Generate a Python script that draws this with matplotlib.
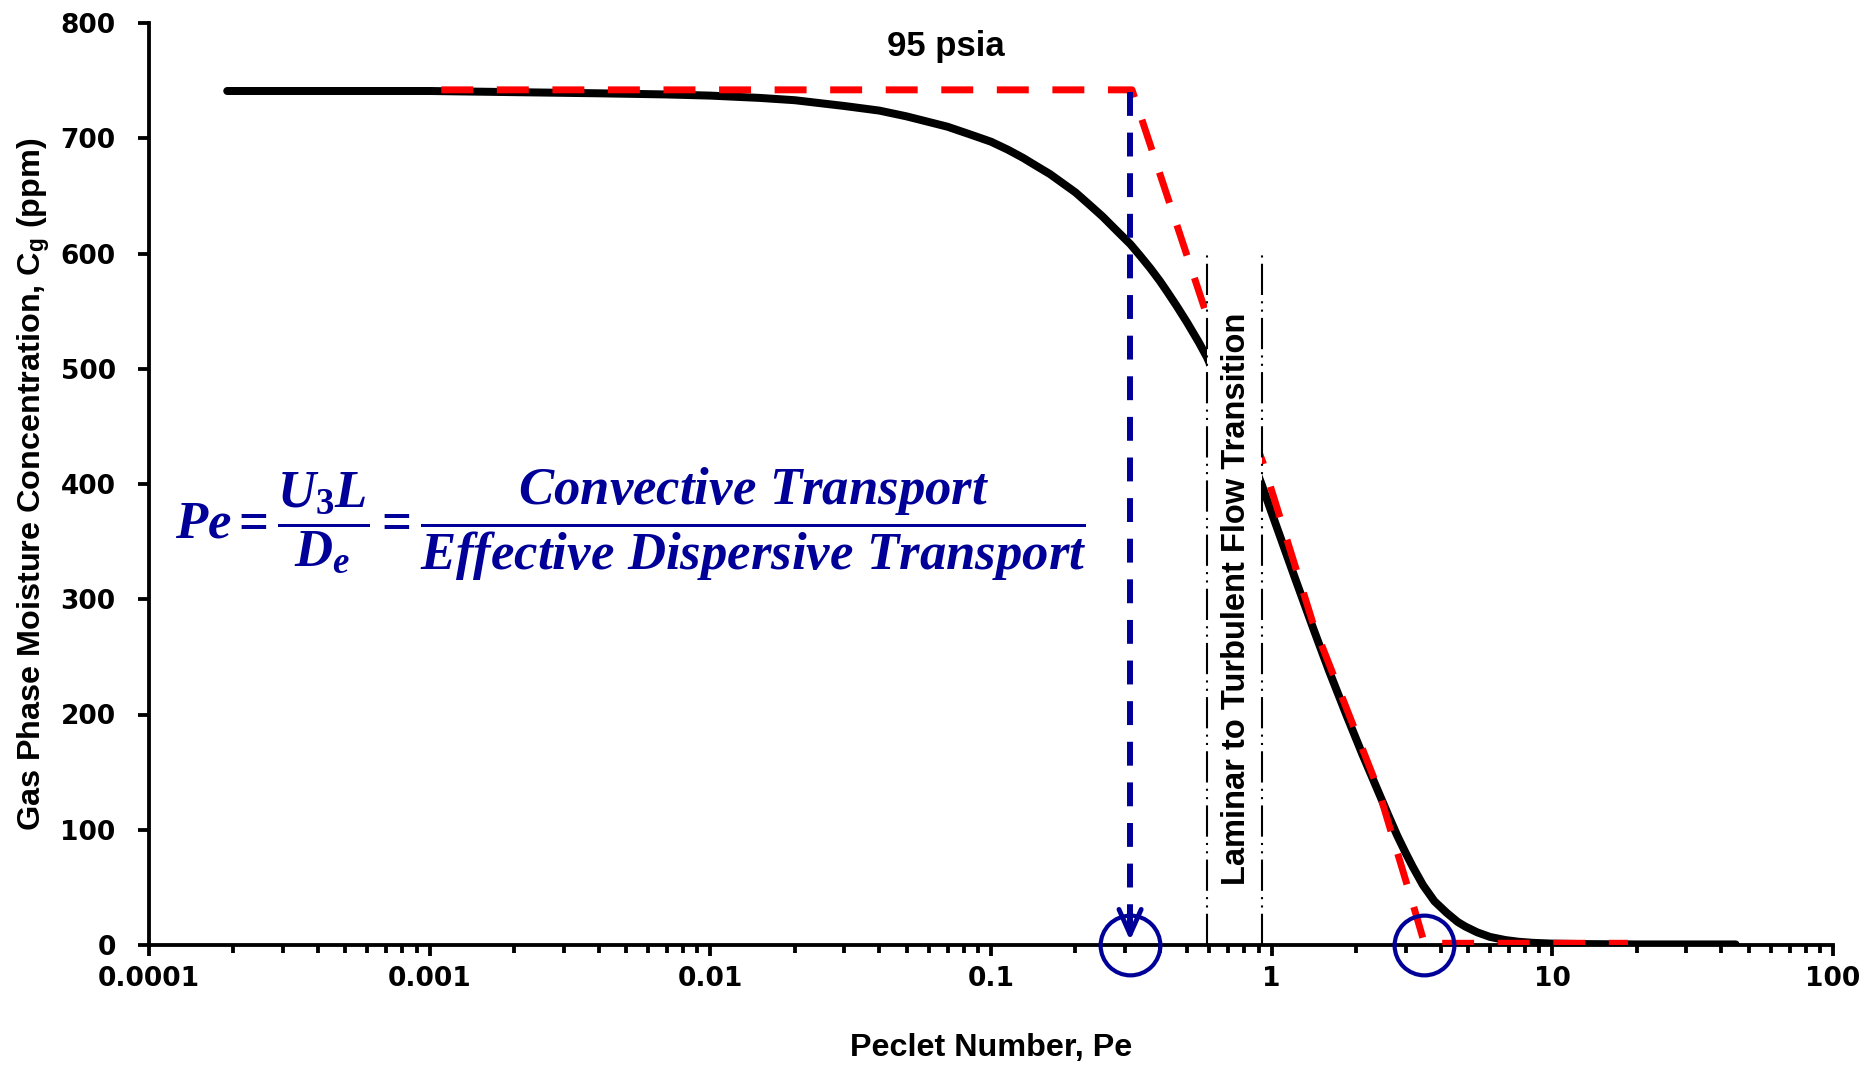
import matplotlib
matplotlib.use("Agg")
import matplotlib.pyplot as plt
from matplotlib.ticker import LogLocator, NullFormatter

# ---- data -------------------------------------------------------------
# Gas phase moisture concentration vs. Peclet number (solid black curve)
pe_curve = [1.9e-4, 5e-4, 1e-3, 2e-3, 4e-3, 0.007, 0.01, 0.015, 0.02, 0.03,
            0.04, 0.05, 0.07, 0.085, 0.10, 0.115, 0.13, 0.145, 0.162, 0.18,
            0.20, 0.225, 0.25, 0.28, 0.314, 0.34, 0.37, 0.40, 0.424, 0.46,
            0.50, 0.55, 0.588, 0.65, 0.75, 0.85, 0.92, 1.0, 1.2, 1.4, 1.6,
            1.85, 2.1, 2.37, 2.6, 2.8, 3.0, 3.18, 3.46, 3.8, 4.2, 4.6, 4.9,
            5.4, 6.0, 6.8, 7.6, 8.5, 10, 13, 20, 45]
cg_curve = [741, 741, 741, 740, 739, 738, 737, 735, 733, 728,
            724, 719, 710, 703, 697, 690, 683, 676, 669, 661,
            653, 642, 632, 620, 608, 598, 587, 576, 567, 554,
            540, 523, 510, 486, 452, 422, 400, 375, 321, 276, 238,
            199, 166, 136, 113, 95, 80, 68, 52, 38, 28, 20, 16,
            11, 7, 4.3, 2.8, 1.9, 1.2, 0.8, 0.5, 0.5]

# Piecewise idealisation (red dashed)
pe_approx = [0.0011, 0.318, 0.59, 0.93, 1.4, 2.4, 3.3, 3.5, 18.6]
cg_approx = [742, 742, 545, 419, 280, 135, 23, 1.5, 1.5]

# Breakthrough onset and end of the steep drop
pe_onset = 0.313
cg_onset_top = 740
pe_end = 3.5

# Laminar-to-turbulent transition band
pe_band = [0.59, 0.92]
cg_band_top = 600

x_ticks = [1e-4, 1e-3, 1e-2, 1e-1, 1, 10, 100]
x_tick_labels = ["0.0001", "0.001", "0.01", "0.1", "1", "10", "100"]
y_ticks = [0, 100, 200, 300, 400, 500, 600, 700, 800]

NAVY = "#000099"
RED = "#ff0000"

# ---- style -------------------------------------------------------------
plt.rcParams["mathtext.fontset"] = "custom"
plt.rcParams["mathtext.it"] = "Liberation Serif:italic:bold"
plt.rcParams["mathtext.rm"] = "Liberation Serif:bold"
plt.rcParams["mathtext.sf"] = "Liberation Sans:bold"

fig = plt.figure(figsize=(18.68, 10.65), dpi=100)
W, H = 1868, 1065
ax = fig.add_axes([149 / W, 1 - 945 / H, (1833 - 149) / W, (945 - 23) / H])

ax.set_xscale("log")
ax.set_xlim(1e-4, 100)
ax.set_ylim(0, 800)

# main curve
ax.plot(pe_curve, cg_curve, color="black", lw=5.75,
        solid_capstyle="round", solid_joinstyle="round", zorder=3)

# idealised approximation
ax.plot(pe_approx, cg_approx, color=RED, lw=5, linestyle=(0, (4.6, 3.4)),
        dash_capstyle="butt", zorder=4)

# onset marker: dashed drop line with an open arrowhead
ax.plot([pe_onset, pe_onset], [cg_onset_top, 6], color=NAVY, lw=4.3,
        linestyle=(0, (4.0, 2.8)), dash_capstyle="butt", zorder=5)
ax.annotate("", xy=(pe_onset, 4), xytext=(pe_onset, 30),
            arrowprops=dict(arrowstyle="->,head_length=18,head_width=8",
                            color=NAVY, lw=3.5, mutation_scale=1,
                            shrinkA=0, shrinkB=0), zorder=6)

# circled points on the axis
ax.plot([pe_onset, pe_end], [0, 0], linestyle="none", marker="o",
        markersize=43, markerfacecolor="none", markeredgecolor=NAVY,
        markeredgewidth=3, clip_on=False, zorder=7)

# transition band
ax.fill_between(pe_band, [4, 4], [cg_band_top, cg_band_top],
                color="white", lw=0, zorder=8)
for pe in pe_band:
    ax.plot([pe, pe], [0, cg_band_top], color="black", lw=1.5,
            linestyle=(0, (15, 3, 1, 3, 1, 3)), zorder=9)
ax.text(0.75, 300, "Laminar to Turbulent Flow Transition", rotation=90,
        ha="center", va="center", fontsize=23.5, fontweight="bold",
        family="Liberation Sans", zorder=10)

ax.text(0.069, 780, "95 psia", ha="center", va="center", fontsize=25,
        fontweight="bold", family="Liberation Sans", zorder=10)

ax.text(0.0052, 365,
        r"$Pe=\dfrac{U_{3}L}{D_{e}}=\dfrac{Convective\ Transport}"
        r"{Effective\ Dispersive\ Transport}$",
        ha="center", va="center", fontsize=38, color=NAVY, zorder=10)

# ---- axes --------------------------------------------------------------
for side in ("top", "right"):
    ax.spines[side].set_visible(False)
for side in ("left", "bottom"):
    ax.spines[side].set_linewidth(2.75)

ax.set_xticks(x_ticks, x_tick_labels)
ax.xaxis.set_minor_locator(LogLocator(base=10, subs=range(2, 10), numticks=20))
ax.xaxis.set_minor_formatter(NullFormatter())
ax.set_yticks(y_ticks)

ax.tick_params(axis="both", which="major", direction="out", length=8,
               width=2.75, labelsize=19)
ax.tick_params(axis="x", which="minor", direction="out", length=5.5,
               width=2.75)
ax.tick_params(axis="x", which="major", pad=7)
ax.tick_params(axis="y", which="major", pad=16)
for lab in ax.get_xticklabels() + ax.get_yticklabels():
    lab.set_fontweight("bold")
    lab.set_family("DejaVu Sans")

fig.text(34 / W, 1 - 484 / H,
         r"Gas Phase Moisture Concentration, C$_\mathsf{g}$ (ppm)",
         rotation=90, ha="center", va="center", fontsize=23.3,
         fontweight="bold", family="Liberation Sans")
fig.text(991 / W, 1 - 1048 / H, "Peclet Number, Pe", ha="center",
         va="center", fontsize=23.3, fontweight="bold",
         family="Liberation Sans")

fig.savefig("out.png", dpi=100)
